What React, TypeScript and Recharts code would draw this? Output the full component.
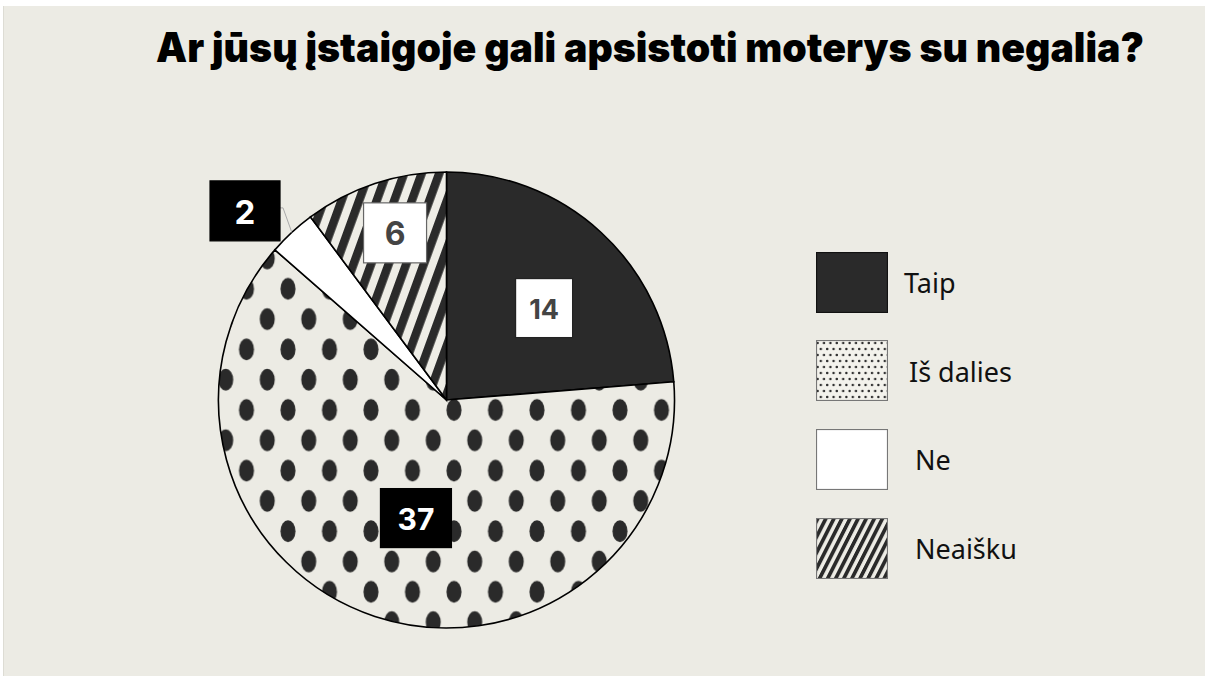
import React from "react";
import { PieChart, Pie, Cell } from "recharts";

const TITLE = "Ar jūsų įstaigoje gali apsistoti moterys su negalia?";
const categories = ["Taip", "Iš dalies", "Ne", "Neaišku"];
const counts = [14, 37, 2, 6];

const data = categories.map((name, i) => ({ name, value: counts[i] }));

const BG = "#ECEBE4";
const DARK = "#2a2a2a";
const sliceFills = [DARK, "url(#dotsBig)", "#ffffff", "url(#stripesBig)"];
const legendFills = [DARK, "url(#dotsSmall)", "#ffffff", "url(#stripesSmall)"];
const legendBorders = ["#111", "#777", "#777", "#777"];

// label styling per slice (radius as fraction of outer radius, angle nudge)
const labelStyles = [
  { rf: 0.588, da: -4, w: 57, h: 59, bg: "#ffffff", border: "#222", color: "#444", fs: 27 },
  { rf: 0.535, da: 3.8, w: 71, h: 59, bg: "#000000", border: "#000", color: "#ffffff", fs: 30 },
  { rf: 1.212, da: 4.1, w: 70, h: 60, bg: "#000000", border: "#000", color: "#ffffff", fs: 33, leader: true },
  { rf: 0.767, da: -1.2, w: 63, h: 60, bg: "#ffffff", border: "#666", color: "#444", fs: 32 },
];

const RAD = Math.PI / 180;

const renderLabel = (props: any) => {
  const { cx, cy, midAngle, outerRadius, index, value } = props;
  const s = labelStyles[index];
  const a = (midAngle + s.da) * RAD;
  const r = outerRadius * s.rf;
  const x = cx + r * Math.cos(a);
  const y = cy - r * Math.sin(a);
  let leader = null;
  if (s.leader) {
    const ma = midAngle * RAD;
    const ox = cx + outerRadius * Math.cos(ma);
    const oy = cy - outerRadius * Math.sin(ma);
    const bx = x + s.w / 2;
    const by = y - 3;
    leader = (
      <polyline
        points={`${bx},${by} ${bx + 3},${by} ${ox},${oy}`}
        fill="none"
        stroke="#aaaaaa"
        strokeWidth={1}
      />
    );
  }
  return (
    <g key={`lbl-${index}`}>
      {leader}
      <rect
        x={x - s.w / 2}
        y={y - s.h / 2}
        width={s.w}
        height={s.h}
        fill={s.bg}
        stroke={s.border}
        strokeWidth={1.2}
      />
      <text
        x={x}
        y={y + 1}
        textAnchor="middle"
        dominantBaseline="central"
        fill={s.color}
        fontFamily="Inter, 'Noto Sans', sans-serif"
        fontWeight={700}
        fontSize={s.fs}
      >
        {value}
      </text>
    </g>
  );
};

const Patterns = () => (
  <svg width={0} height={0} style={{ position: "absolute" }}>
    <defs>
      <pattern id="dotsBig" patternUnits="userSpaceOnUse" x={429.25} y={388.85} width={41.5} height={60.6}>
        <rect width={41.5} height={60.6} fill={BG} />
        <ellipse cx={20.75} cy={15.15} rx={7.5} ry={11} fill={DARK} />
        <ellipse cx={0} cy={45.45} rx={7.5} ry={11} fill={DARK} />
        <ellipse cx={41.5} cy={45.45} rx={7.5} ry={11} fill={DARK} />
      </pattern>
      <pattern id="stripesBig" patternUnits="userSpaceOnUse" width={16.5} height={100} patternTransform="rotate(20)">
        <rect width={16.5} height={100} fill="#EEEDE6" />
        <rect width={8.5} height={100} fill={DARK} />
      </pattern>
      <pattern id="dotsSmall" patternUnits="userSpaceOnUse" width={6.4} height={12}>
        <rect width={6.4} height={12} fill="#F3F2EC" />
        <circle cx={1.6} cy={3} r={1.2} fill={DARK} />
        <circle cx={4.8} cy={9} r={1.2} fill={DARK} />
      </pattern>
      <pattern id="stripesSmall" patternUnits="userSpaceOnUse" width={7.2} height={60} patternTransform="rotate(27)">
        <rect width={7.2} height={60} fill="#EEEDE6" />
        <rect width={3.7} height={60} fill={DARK} />
      </pattern>
    </defs>
  </svg>
);

const Legend = () => (
  <div style={{ position: "absolute", left: 812, top: 246 }}>
    {categories.map((c, i) => (
      <div
        key={c}
        style={{
          position: "absolute",
          left: 0,
          top: i * 88.7,
          width: 320,
          height: 60,
          display: "flex",
          alignItems: "center",
        }}
      >
        <svg width={72} height={61} style={{ flex: "none" }}>
          <rect x={0.5} y={0.5} width={71} height={60} fill={legendFills[i]} stroke={legendBorders[i]} strokeWidth={1.2} />
        </svg>
        <span
          style={{
            marginLeft: [16, 21, 27, 27][i],
            fontFamily: "'Noto Sans', sans-serif",
            fontSize: 27,
            color: "#111",
            whiteSpace: "nowrap",
            lineHeight: "30px",
            position: "relative",
            top: 1,
          }}
        >
          {c}
        </span>
      </div>
    ))}
  </div>
);

export default function App() {
  return (
    <div
      style={{
        position: "absolute",
        left: 3,
        top: 6,
        width: 1202,
        height: 670,
        background: BG,
        borderLeft: "1px solid #dddcd4",
        boxSizing: "border-box",
      }}
    >
      <Patterns />
      <svg width={1202} height={90} style={{ position: "absolute", left: 0, top: 0 }}>
        <text
          x={152}
          y={56}
          textLength={988}
          lengthAdjust="spacingAndGlyphs"
          fontFamily="Inter, 'Noto Sans', sans-serif"
          fontWeight={900}
          fontSize={41}
          fill="#000"
        >
          {TITLE}
        </text>
      </svg>
      <div style={{ position: "absolute", left: 0, top: 0 }}>
        <PieChart width={1202} height={670} margin={{ top: 0, right: 0, bottom: 0, left: 0 }}>
          <Pie
            data={data}
            dataKey="value"
            nameKey="name"
            cx={442.5}
            cy={394}
            outerRadius={228}
            startAngle={90}
            endAngle={-270}
            stroke="#000"
            strokeWidth={1.6}
            label={renderLabel}
            labelLine={false}
            isAnimationActive={false}
          >
            {data.map((d, i) => (
              <Cell key={d.name} fill={sliceFills[i]} />
            ))}
          </Pie>
        </PieChart>
      </div>
      <Legend />
    </div>
  );
}
